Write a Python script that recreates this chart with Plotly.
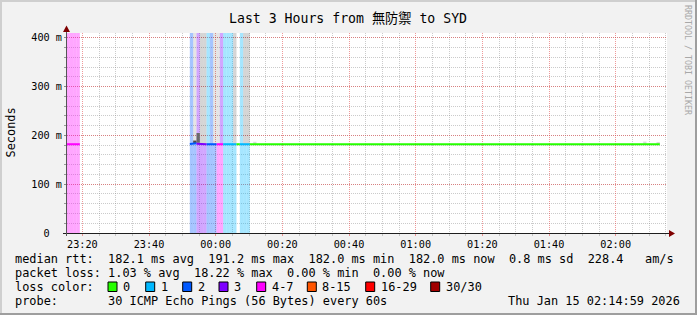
import plotly.graph_objects as go
import pandas as pd

# ---------------- data ----------------
TITLE = "Last 3 Hours from 無防禦 to SYD"
Y_LABEL = "Seconds"
WATERMARK = "RRDTOOL / TOBI OETIKER"
X_RANGE = ["2026-01-14 23:15:24", "2026-01-15 02:15:24"]
X_TICK0 = "2026-01-14 23:20:00"
Y_MAX = 410  # ms, top of graph (loss bands run full height)
Y_TICKS = [0, 100, 200, 300, 400]
Y_TICK_TEXT = ["0\u00a0\u00a0", "100\u00a0m", "200\u00a0m", "300\u00a0m", "400\u00a0m"]

LOSS_LABELS = ["0", "1", "2", "3", "4-7", "8-15", "16-29", "30/30"]
LOSS_COLORS = ["#26ff00", "#00b8ff", "#0059ff", "#7e00ff", "#ff00ff", "#ff5500", "#ff0000", "#a10000"]

# minutes before the data gap
early_start = "2026-01-14 23:15:15"
early_median = [182.0, 182.0, 182.0, 182.0]
early_loss = [4, 4, 4, 4]
early_top = [4, 4, 4, 4]

# minutes after the gap (one entry per minute)
late_start = "2026-01-14 23:52:15"
late_median = [182.5, 184.0, 183.0, 182.0, 182.0, 182.0, 182.0, 182.0, 182.0,
               182.0, 182.0, 182.0, 182.0, 182.0, 182.0, 182.0, 182.0, 182.0]
late_loss = [2, 2, 3, 3, 3, 2, 2, 2, 4, 4, 1, 1, 1, 1, 0, 1, 1, 1]
late_top = [2, "L", 3, "S", "S", 1, 2, "L", "L", 3, 1, 1, 1, "S", None, 1, "S", "S"]

# steady stretch that follows
steady_minutes = 123
steady_median = 182.0
steady_loss = 0

# smoke (spread of the pings) near the median; minute index counted from late_start
smoke_minute = [1, 2, 19, 136, 140]
smoke_low = [184.5, 185.0, 183.5, 183.5, 183.0]
smoke_high = [189.5, 205.0, 187.0, 187.5, 185.0]
smoke_shade = ["#4a4a4a", "#6a6a6a", "#dcdcdc", "#dcdcdc", "#dcdcdc"]

STATS_RTT = ["182.1 ms avg", "191.2 ms max", "182.0 ms min", "182.0 ms now", "0.8 ms sd", "228.4   am/s"]
STATS_LOSS = ["1.03 % avg", "18.22 % max", "0.00 % min", "0.00 % now"]
PROBE = "30 ICMP Echo Pings (56 Bytes) every 60s"
STAMP = "Thu Jan 15 02:14:59 2026"

# ---------------- helpers ----------------
FONT = "DejaVu Sans Mono, Noto Sans CJK SC, monospace"
W, H = 697, 315
L, R, T, B = 67, 30, 33, 82
PW, PH = W - L - R, H - T - B
MIN = pd.Timedelta(minutes=1)


def PX(x):
    return (x - L) / PW


def PY(y):
    return (H - B - y) / PH


def nb(s):
    return s.replace(" ", "\u00a0")


def band(level, a=0.35):
    h = LOSS_COLORS[level].lstrip("#")
    r, g, b = int(h[0:2], 16), int(h[2:4], 16), int(h[4:6], 16)
    return f"rgba({r},{g},{b},{a})"


def top_color(code):
    if code == "S":
        return "rgba(0,0,0,0.165)"
    if code == "L":
        return "rgba(0,0,0,0.10)"
    return band(code)


cols = []  # (start, median, loss, top)
t0 = pd.Timestamp(early_start)
for i, (m, l, tp) in enumerate(zip(early_median, early_loss, early_top)):
    cols.append((t0 + i * MIN, m, l, tp))
t1 = pd.Timestamp(late_start)
for i, (m, l, tp) in enumerate(zip(late_median, late_loss, late_top)):
    cols.append((t1 + i * MIN, m, l, tp))

fig = go.Figure()

# loss bands below median
bx, bb, by, bc = [], [], [], []
for t, m, l, tp in cols:
    if l > 0:
        bx.append(t); bb.append(0); by.append(m); bc.append(band(l))
# bands / smoke above median
for t, m, l, tp in cols:
    if tp is not None:
        bx.append(t); bb.append(m); by.append(Y_MAX - m); bc.append(top_color(tp))
fig.add_trace(go.Bar(x=bx, y=by, base=bb, width=60000, offset=0,
                     marker=dict(color=bc, line=dict(width=0)),
                     hoverinfo="skip", showlegend=False))

# smoke near median
sx = [t1 + k * MIN for k in smoke_minute]
fig.add_trace(go.Bar(x=sx, y=[h - lo for lo, h in zip(smoke_low, smoke_high)], base=smoke_low,
                     width=60000, offset=0, marker=dict(color=smoke_shade, line=dict(width=0)),
                     hoverinfo="skip", showlegend=False))

# median line coloured by loss
segs = {}
prev = None
for t, m, l, tp in cols:
    xs, ys = segs.setdefault(l, ([], []))
    if prev is not None and prev != l and xs:
        xs.append(None); ys.append(None)
    if prev != l and xs and xs[-1] is not None:
        xs.append(None); ys.append(None)
    xs += [t, t + MIN]; ys += [m, m]
    prev = l
s_start = t1 + len(late_median) * MIN
xs, ys = segs.setdefault(steady_loss, ([], []))
if xs:
    xs.append(None); ys.append(None)
xs += [s_start, s_start + steady_minutes * MIN]; ys += [steady_median, steady_median]
for l, (xs, ys) in segs.items():
    fig.add_trace(go.Scatter(x=xs, y=ys, mode="lines", line=dict(color=LOSS_COLORS[l], width=2),
                             hoverinfo="skip", showlegend=False, connectgaps=False))

MGRID = "rgba(226,70,70,0.55)"
GRID = "rgba(140,140,140,0.45)"

fig.update_layout(
    width=W, height=H, autosize=False,
    margin=dict(l=L, r=R, t=T, b=B, pad=0),
    paper_bgcolor="#f2f2f2", plot_bgcolor="#ffffff",
    barmode="overlay", showlegend=False,
    font=dict(family=FONT, color="#000000"),
    xaxis=dict(type="date", range=X_RANGE, tickformat="%H:%M", dtick=20 * 60 * 1000, tick0=X_TICK0,
               showgrid=True, gridcolor=MGRID, griddash="1px,1px", gridwidth=1,
               ticks="outside", ticklen=2, tickcolor=MGRID,
               tickfont=dict(family=FONT, size=10.2, color="#000"),
               minor=dict(dtick=5 * 60 * 1000, tick0=X_TICK0, showgrid=True, gridcolor=GRID,
                          griddash="1px,1px", ticks="outside", ticklen=2, tickcolor=GRID),
               showline=False, zeroline=False, fixedrange=True),
    yaxis=dict(range=[0, Y_MAX], tickvals=Y_TICKS, ticktext=Y_TICK_TEXT,
               showgrid=True, gridcolor=MGRID, griddash="1px,1px", gridwidth=1,
               ticks="outside", ticklen=2, tickcolor="#888",
               tickfont=dict(family=FONT, size=10.2, color="#000"),
               minor=dict(dtick=20, showgrid=True, gridcolor=GRID, griddash="1px,1px",
                          ticks="outside", ticklen=2, tickcolor="#999"),
               showline=False, zeroline=False, fixedrange=True),
)

shapes = []
# frame
shapes.append(dict(type="rect", xref="paper", yref="paper", x0=PX(0), x1=PX(W), y0=PY(0), y1=PY(2),
                   fillcolor="#cfcfcf", line=dict(width=0), layer="above"))
shapes.append(dict(type="rect", xref="paper", yref="paper", x0=PX(0), x1=PX(2), y0=PY(0), y1=PY(H),
                   fillcolor="#cfcfcf", line=dict(width=0), layer="above"))
shapes.append(dict(type="rect", xref="paper", yref="paper", x0=PX(0), x1=PX(W), y0=PY(H - 2), y1=PY(H),
                   fillcolor="#9e9e9e", line=dict(width=0), layer="above"))
shapes.append(dict(type="rect", xref="paper", yref="paper", x0=PX(W - 2), x1=PX(W), y0=PY(0), y1=PY(H),
                   fillcolor="#9e9e9e", line=dict(width=0), layer="above"))
# axes
shapes.append(dict(type="line", xref="paper", yref="paper", x0=PX(63), x1=PX(670), y0=PY(233.5), y1=PY(233.5),
                   line=dict(color="#1f1f1f", width=1), layer="above"))
shapes.append(dict(type="line", xref="paper", yref="paper", x0=PX(66.5), x1=PX(66.5), y0=PY(236), y1=PY(29),
                   line=dict(color="#555555", width=1), layer="above"))


def tri(pts):
    return "M " + " L ".join(f"{PX(x)},{PY(y)}" for x, y in pts) + " Z"


shapes.append(dict(type="path", xref="paper", yref="paper", path=tri([(669, 230), (675, 233.5), (669, 237)]),
                   fillcolor="#7f0000", line=dict(width=0), layer="above"))
shapes.append(dict(type="path", xref="paper", yref="paper", path=tri([(63, 32), (66.5, 25.5), (70, 32)]),
                   fillcolor="#7f0000", line=dict(width=0), layer="above"))

# legend boxes
BOX_X = [108, 145.7, 182.7, 219, 256.7, 307.3, 365.7, 430.7]
for bxp, c in zip(BOX_X, LOSS_COLORS):
    shapes.append(dict(type="rect", xref="paper", yref="paper", x0=PX(bxp), x1=PX(bxp + 9),
                       y0=PY(282), y1=PY(291.5), fillcolor=c, line=dict(color="#000", width=1), layer="above"))
fig.update_layout(shapes=shapes)

ann = []


def text(s, x, y, xa="left", ya="middle", size=11.9, color="#000", angle=0):
    ann.append(dict(text=nb(s), x=PX(x), y=PY(y), xref="paper", yref="paper", xanchor=xa, yanchor=ya,
                    showarrow=False, textangle=angle, borderpad=0,
                    font=dict(family=FONT, size=size, color=color)))


text(TITLE, 348.3, 18.5, xa="center", size=13.2)
text(Y_LABEL, 10.5, 133, xa="center", angle=-90)
text(WATERMARK, 688, 60, xa="center", size=8.3, color="#a8a8a8", angle=90)
LX = 14
text("median rtt:  " + "  ".join(STATS_RTT), LX, 259)
text("packet loss: " + "  ".join(STATS_LOSS), LX, 273)
text("loss color:", LX, 287)
for bxp, lab in zip(BOX_X, LOSS_LABELS):
    text(lab, bxp + 13.8, 287)
text("probe:       " + PROBE, LX, 301)
text(STAMP, 681, 301, xa="right")
fig.update_layout(annotations=ann)

fig.write_html("out.html")
